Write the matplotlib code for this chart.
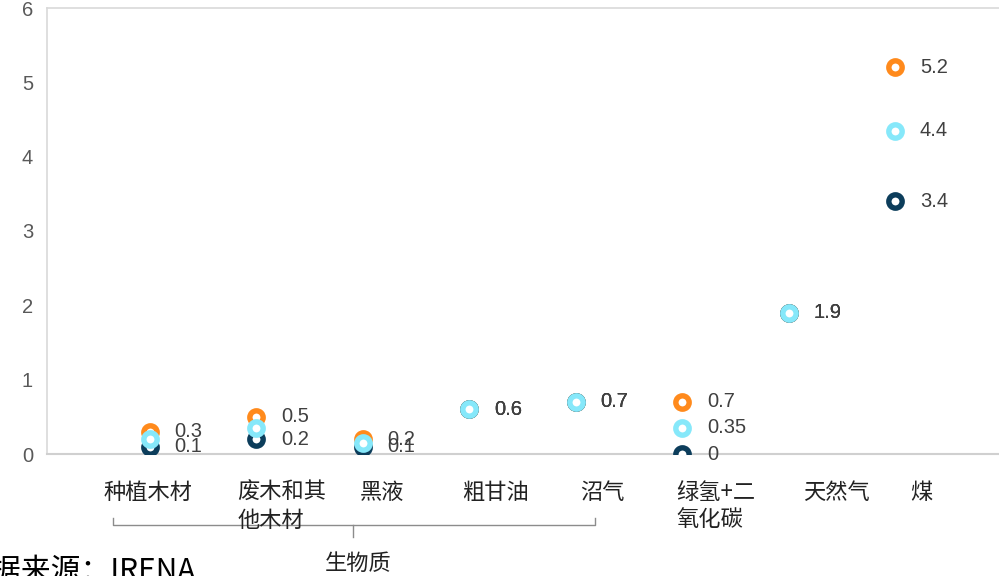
import matplotlib
matplotlib.use("Agg")
import matplotlib.pyplot as plt
from matplotlib.transforms import blended_transform_factory

plt.rcParams['font.family'] = ['Liberation Sans', 'Noto Sans CJK SC', 'DejaVu Sans']

# 数据
categories = ["种植木材", "废木和其\n他木材", "黑液", "粗甘油", "沼气", "绿氢+二\n氧化碳", "天然气", "煤"]
high = [0.3, 0.5, 0.2, 0.6, 0.7, 0.7, 1.9, 5.2]
mid = [0.2, 0.35, 0.15, 0.6, 0.7, 0.35, 1.9, 4.35]
low = [0.1, 0.2, 0.1, 0.6, 0.7, 0, 1.9, 3.4]
mid_labels = [None, None, None, "0.6", "0.7", "0.35", "1.9", "4.4"]
group_name = "生物质"
source = "数据来源：IRENA"

# 颜色
c_high = "#FF8A1C"
c_mid = "#86E8FA"
c_low = "#0C3D5B"

W, H = 999, 576
fig = plt.figure(figsize=(W / 100, H / 100), dpi=100)
ax = fig.add_axes([47 / W, 122 / H, 952 / W, 446 / H])

x = list(range(len(categories)))
ring = dict(linestyle="none", marker="o", markersize=9.6, markeredgewidth=3.9,
            markerfacecolor="white")
ax.plot(x, high, markeredgecolor=c_high, zorder=3, **ring)
ax.plot(x, low, markeredgecolor=c_low, zorder=4, **ring)
ax.plot(x, mid, markeredgecolor=c_mid, zorder=5, **ring)

def lbl(xi, v, s):
    ax.annotate(s, (xi, v), xytext=(17.5, 0), textcoords="offset points",
                va="center", ha="left", fontsize=14.5, color="#404040", zorder=6)

for i in x:
    lbl(i, high[i], f"{high[i]:g}")
    lbl(i, low[i], f"{low[i]:g}")
    if mid_labels[i]:
        lbl(i, mid[i], mid_labels[i])

ax.set_xlim(-0.967, 7.972)
ax.set_ylim(0, 6)
ax.set_yticks(range(7))
ax.set_xticks([])
ax.tick_params(axis="y", length=0, pad=10, labelsize=14.5, labelcolor="#595959")
for side in ["top", "left"]:
    ax.spines[side].set_color("#D9D9D9")
    ax.spines[side].set_linewidth(1.2)
ax.spines["bottom"].set_color("#D0D0D0")
ax.spines["bottom"].set_linewidth(1.5)
ax.spines["right"].set_visible(False)

# 类别标签 (左对齐)
tr = blended_transform_factory(ax.transData, ax.transAxes)
def yfrac(py):
    return (454 - py) / 446

label_left = [-0.44, 0.82, 1.97, 2.93, 4.04, 4.94, 6.13, 7.14]
for i, name in enumerate(categories):
    ax.text(label_left[i], yfrac(481), name, transform=tr, ha="left", va="top",
            fontsize=16, color="#222222", linespacing=1.25,
            family=["Noto Sans CJK SC", "DejaVu Sans"], clip_on=False)

# 生物质 括号
bx0, bx1, bxc = -0.347, 4.18, 1.906
ax.plot([bx0, bx0, bx1, bx1], [yfrac(518), yfrac(525), yfrac(525), yfrac(518)],
        transform=tr, color="#8C8C8C", lw=1, clip_on=False)
ax.plot([bxc, bxc], [yfrac(525), yfrac(537)], transform=tr, color="#8C8C8C",
        lw=1, clip_on=False)
ax.text(bxc + 0.05, yfrac(563), group_name, transform=tr, ha="center", va="center",
        fontsize=16, color="#222222", family=["Noto Sans CJK SC", "DejaVu Sans"],
        clip_on=False)

fig.text(-38 / W, (576 - 571) / H, source, ha="left", va="center", fontsize=21.5,
         color="black", family=["Noto Sans CJK SC", "DejaVu Sans"])

fig.savefig("out.png", dpi=100)
